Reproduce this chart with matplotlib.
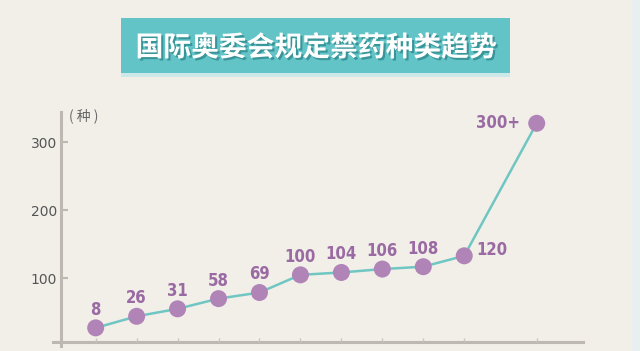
import matplotlib
matplotlib.use("Agg")
import matplotlib.pyplot as plt
from matplotlib.patches import Rectangle
import matplotlib.patheffects as pe

plt.rcParams['font.family'] = ['Noto Sans CJK SC', 'DejaVu Sans']

# data
title = "国际奥委会规定禁药种类趋势"
unit_label = "( 种 )"
x_pos = [0, 1, 2, 3, 4, 5, 6, 7, 8, 9, 10.77]
plot_values = [27, 44, 55, 70, 79, 105, 108.5, 113.5, 117, 133, 328]
point_labels = ["8", "26", "31", "58", "69", "100", "104", "106", "108", "120", "300+"]
y_ticks = [100, 200, 300]

W, H = 640, 351
fig = plt.figure(figsize=(W / 100, H / 100), dpi=100)
bg = "#f2efe9"
fig.patch.set_facecolor(bg)

# right light strip
fig.patches.append(Rectangle((632 / W, 0), 8 / W, 1, transform=fig.transFigure,
                             facecolor="#e9eef1", edgecolor="none", zorder=0))

# title box
fig.patches.append(Rectangle((121 / W, 1 - 77 / H), (510 - 121) / W, 4 / H,
                             transform=fig.transFigure, facecolor="#cde8e8",
                             edgecolor="none", zorder=1))
fig.patches.append(Rectangle((121 / W, 1 - 73 / H), (510 - 121) / W, (73 - 18) / H,
                             transform=fig.transFigure, facecolor="#62c4c7",
                             edgecolor="none", zorder=1))
fig.text(316 / W, 1 - 48 / H, title, color="white", fontsize=20,
         fontweight="bold", ha="center", va="center", zorder=3,
         path_effects=[pe.withSimplePatchShadow(offset=(1.5, -1.5),
                                                shadow_rgbFace="#2f8a8d",
                                                alpha=0.8)])

# axes
left_px, right_px = 53, 583
bottom_px, top_px = 342, 112
ax = fig.add_axes([left_px / W, 1 - bottom_px / H, (right_px - left_px) / W,
                   (bottom_px - top_px) / H])
ax.set_facecolor("none")
ax.set_xlim(-1.042, 11.9)
ax.set_ylim(6.2, 344.6)

axis_col = "#bdb8b1"
for s in ["top", "right"]:
    ax.spines[s].set_visible(False)
ax.spines["left"].set_position(("data", -0.845))
ax.spines["left"].set_bounds(0.5, 344.6)
ax.spines["left"].set_color(axis_col)
ax.spines["left"].set_linewidth(2.2)
ax.spines["bottom"].set_color(axis_col)
ax.spines["bottom"].set_linewidth(2.2)
ax.spines["left"].set_zorder(1)
ax.spines["bottom"].set_zorder(1)
ax.spines["left"].set_clip_on(False)

ax.set_yticks(y_ticks)
ax.set_yticklabels([str(t) for t in y_ticks], fontsize=10, color="#555555",
                   family=["DejaVu Sans"])
ax.tick_params(axis="y", direction="in", length=5, width=1.5, color=axis_col, pad=3)
ax.set_xticks(x_pos)
ax.set_xticklabels([])
ax.tick_params(axis="x", direction="in", length=3, width=1, color="#c8c3bc")

ax.plot(x_pos, plot_values, color="#6fc6c2", linewidth=1.8, zorder=3, clip_on=False)
ax.scatter(x_pos, plot_values, s=150, color="#b184b8", zorder=4, clip_on=False,
           edgecolors="none")

lab_col = "#9a6ba3"
lab_kw = dict(color=lab_col, fontsize=12, fontweight="bold",
              family=["DejaVu Sans"], fontstretch="condensed",
              textcoords="offset points")
for x, v, t in zip(x_pos, plot_values, point_labels):
    if t == "300+":
        ax.annotate(t, (x, v), xytext=(-12, 0), ha="right", va="center", **lab_kw)
    elif t == "120":
        ax.annotate(t, (x, v), xytext=(9, 4), ha="left", va="center", **lab_kw)
    else:
        ax.annotate(t, (x, v), xytext=(0, 13), ha="center", va="center", **lab_kw)

fig.text(84 / W, 1 - 116 / H, unit_label, color="#666666", fontsize=10,
         ha="center", va="center")

fig.savefig("out.png", dpi=100, facecolor=fig.get_facecolor())
